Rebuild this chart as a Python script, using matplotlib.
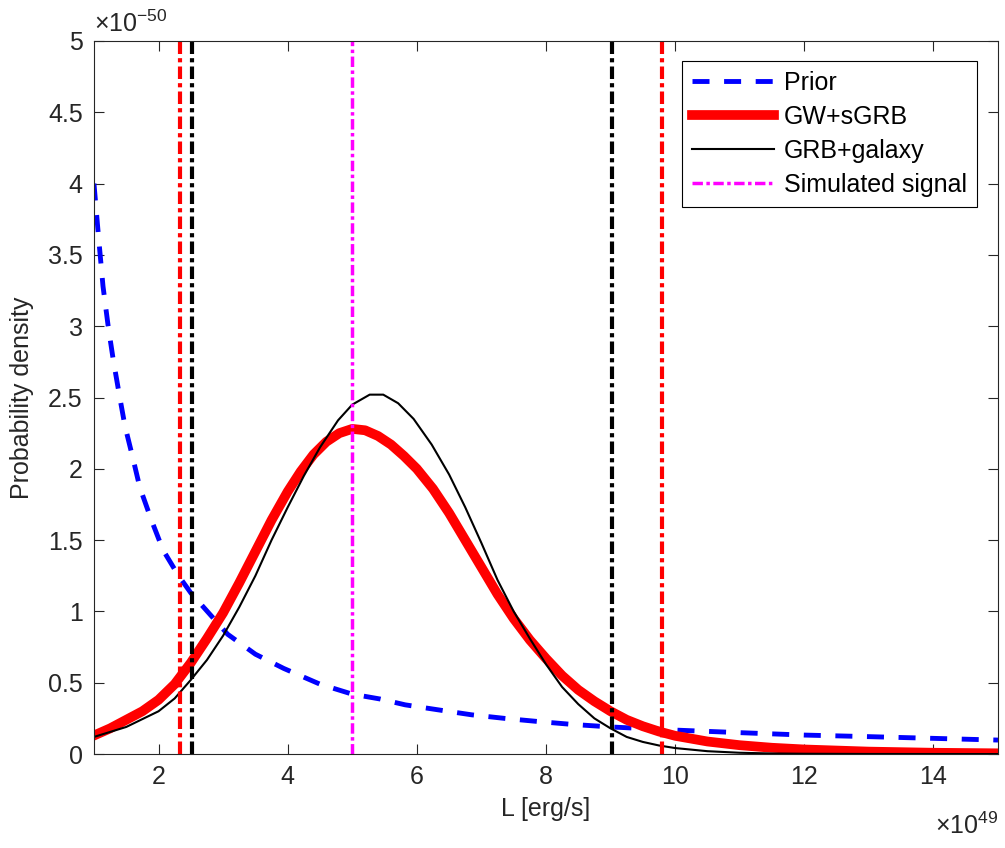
import matplotlib
matplotlib.use("Agg")
import matplotlib.pyplot as plt
import numpy as np

plt.rcParams['font.family'] = ['Liberation Sans', 'DejaVu Sans']
plt.rcParams['mathtext.fontset'] = 'custom'
plt.rcParams['mathtext.rm'] = 'Liberation Sans'
plt.rcParams['mathtext.it'] = 'Liberation Sans:italic'

# luminosity in units of 1e49 erg/s, density in units of 1e-50
prior_x = [1.0, 1.07, 1.14, 1.22, 1.30, 1.40, 1.48, 1.60, 1.71, 1.89, 2.07, 2.31, 2.5,
           3.07, 3.5, 3.94, 4.5, 5.0, 5.43, 5.82, 6.33, 6.85, 7.36, 7.88, 8.40, 9.0,
           10, 11, 12, 13, 14, 15]
prior_y = [4.00, 3.63, 3.28, 3.00, 2.76, 2.50, 2.30, 2.08, 1.87, 1.64, 1.43, 1.25, 1.13,
           0.84, 0.70, 0.60, 0.49, 0.42, 0.386, 0.345, 0.31, 0.275, 0.25, 0.228, 0.208, 0.19,
           0.168, 0.15, 0.133, 0.122, 0.11, 0.098]

gw_x = [1.0, 1.25, 1.5, 1.75, 2.0, 2.25, 2.5, 2.75, 3.0, 3.25, 3.5, 3.75, 4.0, 4.2, 4.4,
        4.6, 4.8, 5.0, 5.2, 5.4, 5.6, 5.8, 6.0, 6.25, 6.5, 6.75, 7.0, 7.25, 7.5, 7.75,
        8.0, 8.25, 8.5, 8.75, 9.0, 9.25, 9.5, 9.75, 10.0, 10.5, 11.0, 11.5, 12.0, 13.0,
        14.0, 15.0]
gw_y = [0.13, 0.18, 0.24, 0.30, 0.38, 0.49, 0.64, 0.81, 0.99, 1.20, 1.42, 1.64, 1.84, 1.98, 2.10,
        2.19, 2.25, 2.28, 2.27, 2.23, 2.17, 2.09, 2.00, 1.86, 1.69, 1.50, 1.31, 1.12, 0.95, 0.80,
        0.67, 0.55, 0.45, 0.37, 0.30, 0.24, 0.195, 0.158, 0.128, 0.088, 0.062, 0.044, 0.032, 0.017,
        0.009, 0.005]

grb_x = [1.0, 1.5, 2.0, 2.25, 2.5, 2.75, 3.0, 3.25, 3.5, 3.75, 4.0, 4.25, 4.5, 4.78, 5.0,
         5.27, 5.48, 5.71, 5.95, 6.23, 6.5, 6.75, 7.0, 7.25, 7.5, 7.75, 8.0, 8.25, 8.5,
         8.75, 9.0, 9.25, 9.5, 9.75, 10.0, 10.5, 11.0, 11.5, 12.0, 13.0, 15.0]
grb_y = [0.12, 0.19, 0.30, 0.39, 0.52, 0.66, 0.83, 1.03, 1.25, 1.50, 1.73, 1.95, 2.15, 2.34, 2.45,
         2.52, 2.52, 2.46, 2.35, 2.17, 1.96, 1.73, 1.48, 1.22, 1.00, 0.81, 0.63, 0.47, 0.35,
         0.25, 0.18, 0.12, 0.085, 0.06, 0.042, 0.02, 0.009, 0.004, 0.002, 0.0005, 0.0]

gw_bounds = [2.33, 9.79]
grb_bounds = [2.52, 9.03]
true_L = 5.0

fig = plt.figure(figsize=(10.05, 8.48), dpi=100)
ax = fig.add_axes([0.0935, 0.1108, 0.8995, 0.8409])

ax.plot(prior_x, prior_y, color='blue', lw=3.5, dashes=(3.5, 3.0), label='Prior')
ax.plot(gw_x, gw_y, color='red', lw=7, label='GW+sGRB')
ax.plot(grb_x, grb_y, color='black', lw=1.5, label='GRB+galaxy')

dd = (3, 1, 1, 1)
for v in gw_bounds:
    ax.axvline(v, color='red', lw=3, dashes=dd)
for v in grb_bounds:
    ax.axvline(v, color='black', lw=3, dashes=dd)
ax.axvline(true_L, color='magenta', lw=2.5, dashes=dd, label='Simulated signal')

ax.set_xlim(1, 15)
ax.set_ylim(0, 5)
ax.set_xticks(np.arange(2, 15, 2))
ax.set_yticks(np.arange(0, 5.01, 0.5))
ax.set_yticklabels(['0', '0.5', '1', '1.5', '2', '2.5', '3', '3.5', '4', '4.5', '5'])

gray = '#262626'
for s in ax.spines.values():
    s.set_color(gray)
    s.set_linewidth(0.8)
ax.tick_params(direction='in', length=7, width=0.8, colors=gray, labelsize=18,
               top=True, right=True, pad=8)

ax.set_xlabel('L [erg/s]', fontsize=18, color=gray, labelpad=6)
ax.set_ylabel('Probability density', fontsize=18, color=gray, labelpad=10)

ax.text(0.0, 1.005, '\u00d710$^{-50}$', transform=ax.transAxes, fontsize=18,
        color=gray, ha='left', va='bottom')
ax.text(1.0, -0.082, '\u00d710$^{49}$', transform=ax.transAxes, fontsize=18,
        color=gray, ha='right', va='top')

leg = ax.legend(loc='upper right', bbox_to_anchor=(0.977, 0.972), fontsize=18,
                handlelength=3.3, fancybox=False, framealpha=1, edgecolor='black',
                borderpad=0.4, labelspacing=0.4, handletextpad=0.4, borderaxespad=0)
leg.get_frame().set_linewidth(0.8)

fig.savefig('out.png', dpi=100)
